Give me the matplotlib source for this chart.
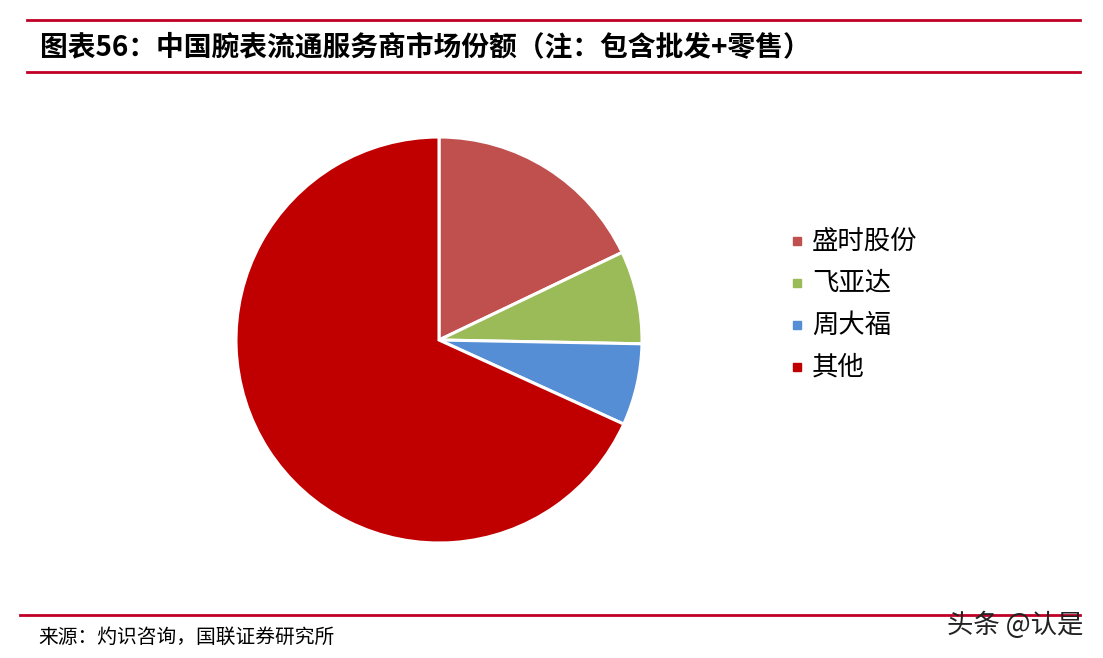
import matplotlib
matplotlib.use("Agg")
import matplotlib.pyplot as plt
from matplotlib.lines import Line2D

plt.rcParams['font.family'] = ['Noto Sans CJK SC', 'DejaVu Sans']

labels = ['盛时股份', '飞亚达', '周大福', '其他']
shares = [17.9, 7.4, 6.5, 68.2]
colors = ['#C0504D', '#9BBB59', '#558ED5', '#C00000']

title = '图表56：中国腕表流通服务商市场份额（注：包含批发+零售）'
source = '来源：灼识咨询，国联证券研究所'

W, H = 1103, 658
fig = plt.figure(figsize=(W/100, H/100), dpi=100)

def fx(x): return x / W
def fy(y): return 1 - y / H

red = '#C00025'
fig.add_artist(Line2D([fx(27), fx(1080)], [fy(20), fy(20)], color=red, lw=2))
fig.add_artist(Line2D([fx(27), fx(1080)], [fy(72), fy(72)], color=red, lw=2))
fig.add_artist(Line2D([fx(20), fx(1080)], [fy(615), fy(615)], color=red, lw=2))

fig.text(fx(40), fy(47), title, fontsize=20, fontweight='bold', style='italic',
         va='center', ha='left', color='black')
fig.text(fx(38), fy(637), source, fontsize=14.2, va='center', ha='left', color='black')
fig.text(fx(1083), fy(625), '头条 @认是', fontsize=19, va='center', ha='right', color='#222222')

cx, cy, r = 439, 340, 203
ax = fig.add_axes([fx(cx - r), fy(cy + r), 2*r/W, 2*r/H])
ax.pie(shares, colors=colors, startangle=90, counterclock=False,
       wedgeprops=dict(edgecolor='white', linewidth=2.2))
ax.set_aspect('auto')
ax.set_xlim(-1, 1); ax.set_ylim(-1, 1)

ys = [241, 283, 325, 367]
for lab, c, y in zip(labels, colors, ys):
    fig.patches.append(plt.Rectangle((fx(793), fy(y + 4)), 8/W, 8/H, color=c,
                                     transform=fig.transFigure, figure=fig))
    fig.text(fx(812), fy(y), lab, fontsize=19,
             va='center', ha='left', color='black')

fig.savefig('out.png', dpi=100)
